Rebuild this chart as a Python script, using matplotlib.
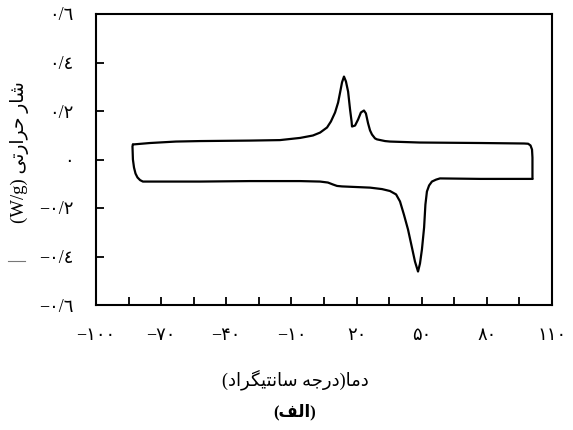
"""DSC heating/cooling loop with Persian axis labels."""

import matplotlib

matplotlib.use("Agg")
import matplotlib.pyplot as plt
import numpy as np
from matplotlib.lines import Line2D

# cooling run (upper branch), temperature in C and heat flow in W/g
cool_temp = [-83.0, -75.1, -63.2, -52.1, -29.1, -15.3, -6.0, -0.1, 3.2, 6.4,
             8.2, 10.1, 11.5, 12.4, 13.3, 14.2, 15.1, 16.1, 17.0, 17.7,
             17.9, 19.3, 20.7, 22.0, 23.4, 24.3, 25.3, 26.2, 27.1, 28.5,
             29.4, 33.1, 35.4, 49.0, 77.0, 97.1, 99.0, 100.1, 100.8, 101.0,
             101.0]
cool_flow = [0.062, 0.068, 0.074, 0.076, 0.078, 0.080, 0.089, 0.099, 0.111, 0.132,
             0.157, 0.194, 0.235, 0.276, 0.318, 0.342, 0.322, 0.280, 0.206, 0.157,
             0.136, 0.140, 0.165, 0.194, 0.202, 0.190, 0.149, 0.120, 0.103, 0.087,
             0.083, 0.076, 0.074, 0.070, 0.068, 0.066, 0.065, 0.058, 0.041, 0.008,
             -0.080]

# heating run (lower branch)
heat_temp = [-83.0, -83.2, -83.0, -82.5, -81.8, -80.9, -79.7, -78.4, -52.1, -29.1,
             -6.0, 3.2, 6.8, 9.1, 11.0, 13.3, 26.2, 31.7, 35.4, 38.2,
             40.0, 41.8, 43.7, 45.5, 46.9, 48.3, 49.2, 50.1, 51.1, 51.7,
             52.4, 53.4, 54.7, 56.6, 58.4, 77.0, 91.6, 101.0]
heat_flow = [0.062, 0.054, 0.000, -0.033, -0.058, -0.074, -0.085, -0.091, -0.091, -0.089,
             -0.089, -0.091, -0.095, -0.103, -0.109, -0.111, -0.116, -0.122, -0.130, -0.144,
             -0.173, -0.227, -0.289, -0.363, -0.421, -0.462, -0.429, -0.371, -0.280, -0.186,
             -0.132, -0.107, -0.091, -0.083, -0.078, -0.080, -0.080, -0.080]

x_ticks = np.arange(-100, 111, 15)
x_labels = ["−۱۰۰", "", "−۷۰", "", "−۴۰", "", "−۱۰", "", "۲۰", "", "۵۰", "", "۸۰", "", "۱۱۰"]
y_ticks = [-0.6, -0.4, -0.2, 0.0, 0.2, 0.4, 0.6]
y_labels = ["−٠/٦", "−٠/٤", "−٠/٢", "٠", "٠/٢", "٠/٤", "٠/٦"]

# contextual forms: isolated, final, initial, medial (None = joins on the right only)
FORMS = {
    "ا": ("\uFE8D", "\uFE8E", None, None),
    "د": ("\uFEA9", "\uFEAA", None, None),
    "ر": ("\uFEAD", "\uFEAE", None, None),
    "م": ("\uFEE1", "\uFEE2", "\uFEE3", "\uFEE4"),
    "ج": ("\uFE9D", "\uFE9E", "\uFE9F", "\uFEA0"),
    "ه": ("\uFEE9", "\uFEEA", "\uFEEB", "\uFEEC"),
    "س": ("\uFEB1", "\uFEB2", "\uFEB3", "\uFEB4"),
    "ن": ("\uFEE5", "\uFEE6", "\uFEE7", "\uFEE8"),
    "ت": ("\uFE95", "\uFE96", "\uFE97", "\uFE98"),
    "ی": ("\uFBFC", "\uFBFD", "\uFBFE", "\uFBFF"),
    "گ": ("\uFB92", "\uFB93", "\uFB94", "\uFB95"),
    "ش": ("\uFEB5", "\uFEB6", "\uFEB7", "\uFEB8"),
    "ح": ("\uFEA1", "\uFEA2", "\uFEA3", "\uFEA4"),
    "ل": ("\uFEDD", "\uFEDE", "\uFEDF", "\uFEE0"),
    "ف": ("\uFED1", "\uFED2", "\uFED3", "\uFED4"),
}
MIRROR = {"(": ")", ")": "("}


def rtl(text):
    """Shape Persian letters and return them in visual (left-to-right) order."""
    out = []
    for i, ch in enumerate(text):
        if ch not in FORMS:
            out.append(MIRROR.get(ch, ch))
            continue
        prev = text[i - 1] if i > 0 else None
        nxt = text[i + 1] if i + 1 < len(text) else None
        isol, fin, ini, med = FORMS[ch]
        joins_prev = prev in FORMS and FORMS[prev][2] is not None
        joins_next = ini is not None and nxt in FORMS
        if joins_prev and joins_next:
            out.append(med)
        elif joins_prev:
            out.append(fin)
        elif joins_next:
            out.append(ini)
        else:
            out.append(isol)
    return "".join(reversed(out))


FONT = ["Liberation Serif", "DejaVu Sans"]
plt.rcParams["font.family"] = FONT

W, H = 573, 430
fig = plt.figure(figsize=(W / 100, H / 100), dpi=100)
fig.patch.set_facecolor("white")
ax = fig.add_axes([96 / W, 1 - 305 / H, (552 - 96) / W, (305 - 14) / H])

ax.plot(cool_temp, cool_flow, color="black", lw=1.6,
        solid_joinstyle="round", solid_capstyle="round")
ax.plot(heat_temp, heat_flow, color="black", lw=1.6,
        solid_joinstyle="round", solid_capstyle="round")

ax.set_xlim(-100, 110)
ax.set_ylim(-0.6, 0.6)
for side in ax.spines.values():
    side.set_linewidth(1.5)

ax.set_xticks(x_ticks)
ax.set_xticklabels(x_labels, fontsize=13)
ax.set_yticks(y_ticks)
ax.set_yticklabels(y_labels, fontsize=13)
ax.tick_params(axis="x", direction="in", length=6, width=1.3, pad=16)
ax.tick_params(axis="y", direction="in", length=6, width=1.3, pad=16)

fig.text(20 / W, 1 - 152 / H, "(W/g) " + rtl("شار حرارتی"), rotation=90,
         ha="center", va="center", fontsize=13.5)
fig.add_artist(Line2D([8 / W, 25 / W], [1 - 261 / H] * 2, color="#777777", lw=0.8))

fig.text(295 / W, 1 - 380 / H, rtl("دما(درجه سانتیگراد)"), ha="center", va="center",
         fontsize=13)
fig.text(295 / W, 1 - 412 / H, rtl("(الف)"), ha="center", va="center",
         fontsize=12, weight="bold")

fig.savefig("out.png", dpi=100, facecolor=fig.get_facecolor())
plt.close(fig)
